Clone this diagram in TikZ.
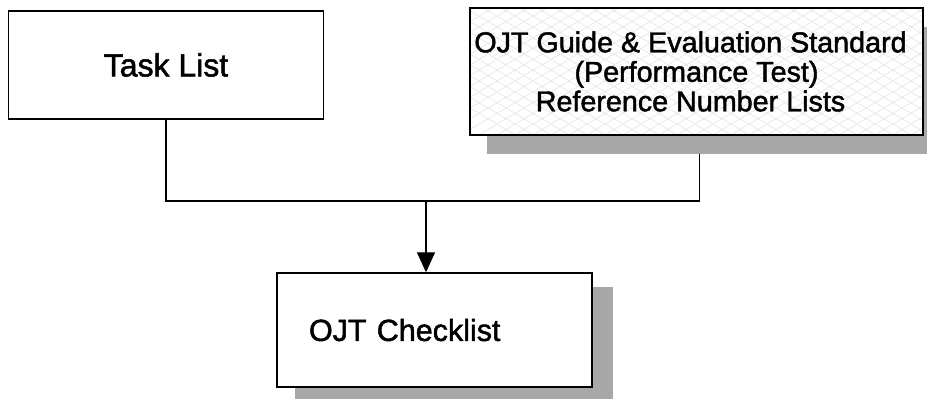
\documentclass[tikz,border=0pt]{standalone}
\usepackage{fontspec}
\setmainfont{Liberation Sans}[FakeBold=1.6]
\usetikzlibrary{arrows.meta}
\pgfdeclarelayer{lines}
\pgfdeclarelayer{shadows}
\pgfsetlayers{lines,shadows,main}
\begin{document}
\begin{tikzpicture}[x=1pt,y=-1pt,
  box/.style={draw, line width=1.4pt, inner sep=0pt, align=center},
  shadowfill/.style={fill=black!34},
  conn/.style={line width=1.3pt},
  arr/.style={line width=1.3pt, -{Triangle[length=20pt,width=18pt]}}]
\useasboundingbox (0,0) rectangle (927,399);
\node[box, fill=white, minimum width=315pt, minimum height=108pt, font=\fontsize{32}{34}\selectfont] (task) at (166,65) {Task List};
\node[box, minimum width=453pt, minimum height=127pt, font=\fontsize{28.7}{29.5}\selectfont] (guide) at (696.5,71.5)
  {OJT Guide \& Evaluation Standard\hspace*{12pt}\\(Performance Test)\hspace*{12pt}\\Reference Number Lists\hspace*{12pt}};
\node[box, fill=white, minimum width=315pt, minimum height=114pt, text width=251pt, align=left, inner xsep=32pt, font=\fontsize{30.5}{32}\selectfont] (check) at (434.5,330) {OJT Checklist};
\coordinate (bus) at (426,201);
\begin{pgfonlayer}{lines}
  \draw[conn] (task.south) |- (bus) -| ([xshift=3pt]guide.south);
  \draw[arr] (bus) -- (bus |- check.north);
\end{pgfonlayer}
\begin{pgfonlayer}{shadows}
  \fill[shadowfill] ([shift={(18,20)}]guide.north west) rectangle ([shift={(18,18)}]guide.south east);
  \fill[shadowfill] ([shift={(19,15)}]check.north west) rectangle ([shift={(20,12)}]check.south east);
  \fill[white] (guide.north west) rectangle (guide.south east);
  \begin{scope}
    \clip (guide.north west) rectangle (guide.south east);
    \foreach \k in {-10,...,40} {
      \draw[black!10, line width=0.6pt] (470+18*\k,0) -- ++(300,180);
      \draw[black!10, line width=0.6pt] (470+18*\k,0) -- ++(-300,180);
    }
  \end{scope}
\end{pgfonlayer}
\end{tikzpicture}
\end{document}
